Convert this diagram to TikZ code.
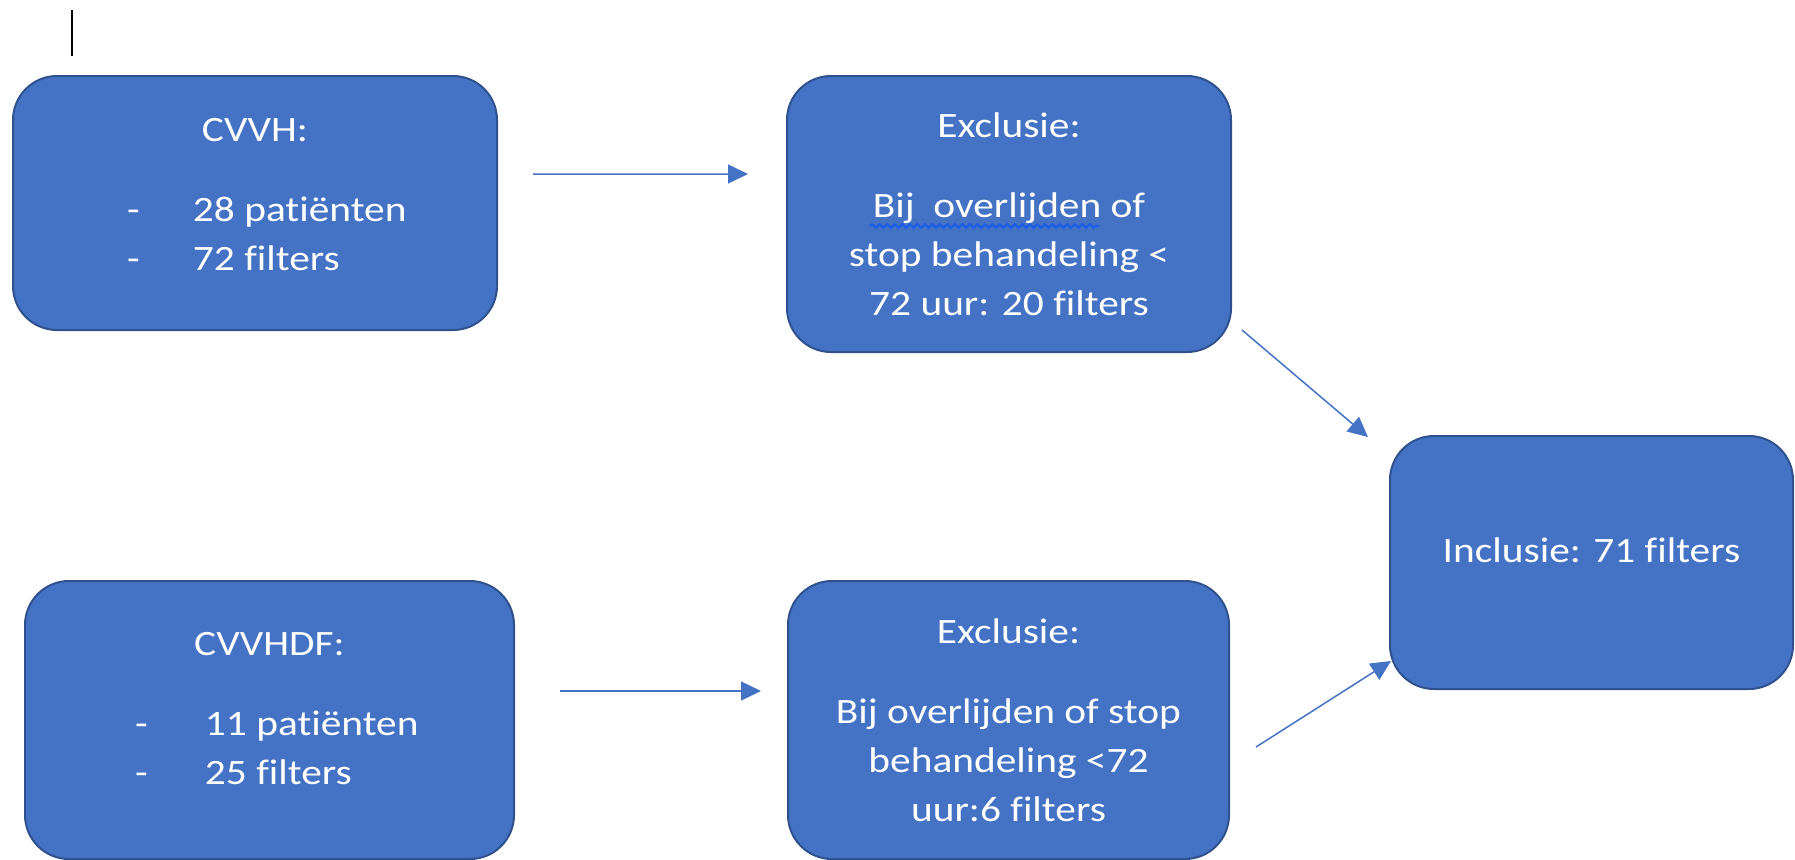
\documentclass[tikz,border=0pt]{standalone}
\usepackage{fontspec}
\setmainfont{Carlito}[FakeStretch=1.16,Ligatures=CommonOff]
\usetikzlibrary{positioning}
\usetikzlibrary{arrows.meta}
\usetikzlibrary{decorations.pathmorphing}
\definecolor{boxblue}{HTML}{4472C4}
\definecolor{boxedge}{HTML}{2F528F}
\definecolor{spellblue}{HTML}{1E5EE6}
\tikzset{%
  box/.style = {rectangle,rounded corners=0.88cm,draw=boxedge,fill=boxblue,
        line width=0.04cm,text=white,align=center,inner sep=0pt},
  flow/.style = {-{Triangle[length=0.4cm,width=0.38cm]},draw=boxblue,
        line width=0.03cm},
  spell/.style = {draw=spellblue,line width=0.045cm,
        decorate,decoration={snake,amplitude=0.035cm,segment length=0.15cm}}
}
\newcommand{\listitem}[1]{\makebox[5.12cm][l]{\makebox[1.32cm][l]{-}#1}}
\newcommand{\listitemb}[1]{\makebox[5.38cm][l]{\makebox[1.4cm][l]{-}#1}}

\begin{document}
\begin{tikzpicture}\fontsize{20.3pt}{27.9pt}\selectfont
   \useasboundingbox (0,0) rectangle (35.9,-17.2);
   \draw[line width=0.04cm] (1.44,-0.2) -- (1.44,-1.12);

   \node[box,minimum width=9.68cm,minimum height=5.08cm] (cvvh) at (5.10,-4.06)
        {CVVH:\\[17.6pt]\listitem{28 patiënten}\\\listitem{72 filters}\rule[-0.36cm]{0pt}{0pt}};
   \node[box,minimum width=8.88cm,minimum height=5.52cm] (excl1)
        [right=5.76cm of cvvh.north east,anchor=north west]
        {Exclusie:\\[17.6pt]Bij~ overlijden of\\stop behandeling <\\72 uur: 20 filters};
   \node[box,minimum width=9.78cm,minimum height=5.56cm] (cvvhdf) at (5.39,-14.40)
        {CVVHDF:\\[17.6pt]\listitemb{11 patiënten}\\\listitemb{25 filters}\rule[-0.46cm]{0pt}{0pt}};
   \node[box,minimum width=8.82cm,minimum height=5.56cm] (excl2)
        [right=5.44cm of cvvhdf.north east,anchor=north west]
        {Exclusie:\\[17.6pt]Bij overlijden of stop\\behandeling <72\\uur:6 filters};
   \node[box,minimum width=8.06cm,minimum height=5.06cm,
        text height=0.3cm,text depth=0.3cm] (incl) at (31.83,-11.25)
        {Inclusie: 71 filters};

   \draw[spell] (17.40,-4.52) -- (21.98,-4.52);

   \draw[flow] ([shift={(0.7,0.58)}]cvvh.east) -- ([shift={(-0.76,0.8)}]excl1.west);
   \draw[flow] ([shift={(0.9,0.58)}]cvvhdf.east) -- ([shift={(-0.52,0.58)}]excl2.west);
   \draw[flow] ([shift={(0.2,0.46)}]excl1.south east) -- ([shift={(-0.42,-0.04)}]incl.north west);
   \draw[flow] ([shift={(0.52,-0.54)}]excl2.east) -- ([shift={(0.04,0.58)}]incl.south west);
\end{tikzpicture}
\end{document}
